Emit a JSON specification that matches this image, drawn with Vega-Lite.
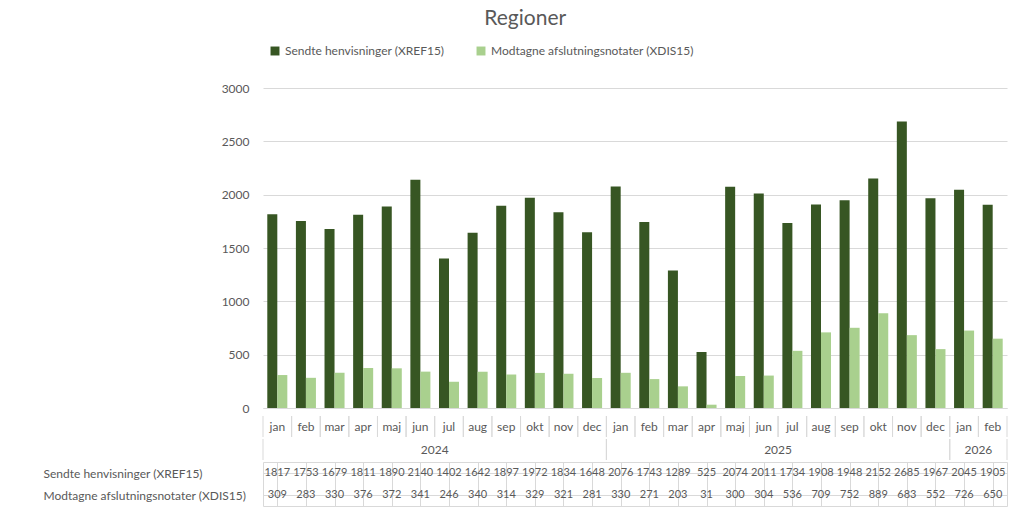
{
  "$schema": "https://vega.github.io/schema/vega-lite/v6.json",
  "background": "white",
  "padding": {"left": 42, "top": 8, "right": 5, "bottom": 3},
  "title": {"text": "Regioner", "fontSize": 21, "color": "#595959", "anchor": "middle", "fontWeight": "normal", "offset": 10},
  "datasets": {
    "d": [
      {"key": "2024-01 jan", "month": "jan", "year": "2024", "series": "Sendte henvisninger (XREF15)", "value": 1817},
      {"key": "2024-02 feb", "month": "feb", "year": "2024", "series": "Sendte henvisninger (XREF15)", "value": 1753},
      {"key": "2024-03 mar", "month": "mar", "year": "2024", "series": "Sendte henvisninger (XREF15)", "value": 1679},
      {"key": "2024-04 apr", "month": "apr", "year": "2024", "series": "Sendte henvisninger (XREF15)", "value": 1811},
      {"key": "2024-05 maj", "month": "maj", "year": "2024", "series": "Sendte henvisninger (XREF15)", "value": 1890},
      {"key": "2024-06 jun", "month": "jun", "year": "2024", "series": "Sendte henvisninger (XREF15)", "value": 2140},
      {"key": "2024-07 jul", "month": "jul", "year": "2024", "series": "Sendte henvisninger (XREF15)", "value": 1402},
      {"key": "2024-08 aug", "month": "aug", "year": "2024", "series": "Sendte henvisninger (XREF15)", "value": 1642},
      {"key": "2024-09 sep", "month": "sep", "year": "2024", "series": "Sendte henvisninger (XREF15)", "value": 1897},
      {"key": "2024-10 okt", "month": "okt", "year": "2024", "series": "Sendte henvisninger (XREF15)", "value": 1972},
      {"key": "2024-11 nov", "month": "nov", "year": "2024", "series": "Sendte henvisninger (XREF15)", "value": 1834},
      {"key": "2024-12 dec", "month": "dec", "year": "2024", "series": "Sendte henvisninger (XREF15)", "value": 1648},
      {"key": "2025-01 jan", "month": "jan", "year": "2025", "series": "Sendte henvisninger (XREF15)", "value": 2076},
      {"key": "2025-02 feb", "month": "feb", "year": "2025", "series": "Sendte henvisninger (XREF15)", "value": 1743},
      {"key": "2025-03 mar", "month": "mar", "year": "2025", "series": "Sendte henvisninger (XREF15)", "value": 1289},
      {"key": "2025-04 apr", "month": "apr", "year": "2025", "series": "Sendte henvisninger (XREF15)", "value": 525},
      {"key": "2025-05 maj", "month": "maj", "year": "2025", "series": "Sendte henvisninger (XREF15)", "value": 2074},
      {"key": "2025-06 jun", "month": "jun", "year": "2025", "series": "Sendte henvisninger (XREF15)", "value": 2011},
      {"key": "2025-07 jul", "month": "jul", "year": "2025", "series": "Sendte henvisninger (XREF15)", "value": 1734},
      {"key": "2025-08 aug", "month": "aug", "year": "2025", "series": "Sendte henvisninger (XREF15)", "value": 1908},
      {"key": "2025-09 sep", "month": "sep", "year": "2025", "series": "Sendte henvisninger (XREF15)", "value": 1948},
      {"key": "2025-10 okt", "month": "okt", "year": "2025", "series": "Sendte henvisninger (XREF15)", "value": 2152},
      {"key": "2025-11 nov", "month": "nov", "year": "2025", "series": "Sendte henvisninger (XREF15)", "value": 2685},
      {"key": "2025-12 dec", "month": "dec", "year": "2025", "series": "Sendte henvisninger (XREF15)", "value": 1967},
      {"key": "2026-01 jan", "month": "jan", "year": "2026", "series": "Sendte henvisninger (XREF15)", "value": 2045},
      {"key": "2026-02 feb", "month": "feb", "year": "2026", "series": "Sendte henvisninger (XREF15)", "value": 1905},
      {"key": "2024-01 jan", "month": "jan", "year": "2024", "series": "Modtagne afslutningsnotater (XDIS15)", "value": 309},
      {"key": "2024-02 feb", "month": "feb", "year": "2024", "series": "Modtagne afslutningsnotater (XDIS15)", "value": 283},
      {"key": "2024-03 mar", "month": "mar", "year": "2024", "series": "Modtagne afslutningsnotater (XDIS15)", "value": 330},
      {"key": "2024-04 apr", "month": "apr", "year": "2024", "series": "Modtagne afslutningsnotater (XDIS15)", "value": 376},
      {"key": "2024-05 maj", "month": "maj", "year": "2024", "series": "Modtagne afslutningsnotater (XDIS15)", "value": 372},
      {"key": "2024-06 jun", "month": "jun", "year": "2024", "series": "Modtagne afslutningsnotater (XDIS15)", "value": 341},
      {"key": "2024-07 jul", "month": "jul", "year": "2024", "series": "Modtagne afslutningsnotater (XDIS15)", "value": 246},
      {"key": "2024-08 aug", "month": "aug", "year": "2024", "series": "Modtagne afslutningsnotater (XDIS15)", "value": 340},
      {"key": "2024-09 sep", "month": "sep", "year": "2024", "series": "Modtagne afslutningsnotater (XDIS15)", "value": 314},
      {"key": "2024-10 okt", "month": "okt", "year": "2024", "series": "Modtagne afslutningsnotater (XDIS15)", "value": 329},
      {"key": "2024-11 nov", "month": "nov", "year": "2024", "series": "Modtagne afslutningsnotater (XDIS15)", "value": 321},
      {"key": "2024-12 dec", "month": "dec", "year": "2024", "series": "Modtagne afslutningsnotater (XDIS15)", "value": 281},
      {"key": "2025-01 jan", "month": "jan", "year": "2025", "series": "Modtagne afslutningsnotater (XDIS15)", "value": 330},
      {"key": "2025-02 feb", "month": "feb", "year": "2025", "series": "Modtagne afslutningsnotater (XDIS15)", "value": 271},
      {"key": "2025-03 mar", "month": "mar", "year": "2025", "series": "Modtagne afslutningsnotater (XDIS15)", "value": 203},
      {"key": "2025-04 apr", "month": "apr", "year": "2025", "series": "Modtagne afslutningsnotater (XDIS15)", "value": 31},
      {"key": "2025-05 maj", "month": "maj", "year": "2025", "series": "Modtagne afslutningsnotater (XDIS15)", "value": 300},
      {"key": "2025-06 jun", "month": "jun", "year": "2025", "series": "Modtagne afslutningsnotater (XDIS15)", "value": 304},
      {"key": "2025-07 jul", "month": "jul", "year": "2025", "series": "Modtagne afslutningsnotater (XDIS15)", "value": 536},
      {"key": "2025-08 aug", "month": "aug", "year": "2025", "series": "Modtagne afslutningsnotater (XDIS15)", "value": 709},
      {"key": "2025-09 sep", "month": "sep", "year": "2025", "series": "Modtagne afslutningsnotater (XDIS15)", "value": 752},
      {"key": "2025-10 okt", "month": "okt", "year": "2025", "series": "Modtagne afslutningsnotater (XDIS15)", "value": 889},
      {"key": "2025-11 nov", "month": "nov", "year": "2025", "series": "Modtagne afslutningsnotater (XDIS15)", "value": 683},
      {"key": "2025-12 dec", "month": "dec", "year": "2025", "series": "Modtagne afslutningsnotater (XDIS15)", "value": 552},
      {"key": "2026-01 jan", "month": "jan", "year": "2026", "series": "Modtagne afslutningsnotater (XDIS15)", "value": 726},
      {"key": "2026-02 feb", "month": "feb", "year": "2026", "series": "Modtagne afslutningsnotater (XDIS15)", "value": 650}
    ]
  },
  "spacing": 0,
  "config": {
    "font": "Lato",
    "view": {"stroke": "transparent"},
    "axis": {"labelFontSize": 12, "labelColor": "#595959"}
  },
  "vconcat": [
    {
      "width": 744,
      "height": 320,
      "data": {"name": "d"},
      "mark": {"type": "bar"},
      "encoding": {
        "x": {
          "field": "key", "type": "ordinal",
          "scale": {"paddingInner": 0.3, "paddingOuter": 0.15},
          "axis": {"title": null, "labels": false, "ticks": false, "domainColor": "#d9d9d9", "maxExtent": 1, "minExtent": 0}
        },
        "xOffset": {"field": "series", "type": "nominal", "sort": "descending"},
        "y": {
          "field": "value", "type": "quantitative",
          "scale": {"domain": [0, 3000]},
          "axis": {"title": null, "tickCount": 6, "format": "d", "domain": false, "ticks": false, "gridColor": "#d9d9d9", "labelPadding": 14}
        },
        "color": {
          "field": "series", "type": "nominal", "sort": "descending",
          "scale": {"range": ["#375623", "#a9d08e"]},
          "legend": {"orient": "top", "direction": "horizontal", "title": null, "symbolType": "square", "symbolSize": 80, "labelLimit": 0, "labelFontSize": 12, "labelColor": "#595959", "columnPadding": 30, "padding": 6}
        }
      }
    },
    {
      "width": 744,
      "height": 21,
      "data": {"name": "d"},
      "transform": [
        {"filter": "datum.series == 'Sendte henvisninger (XREF15)'"}
      ],
      "layer": [
        {
          "mark": {"type": "text", "fontSize": 12, "color": "#595959", "baseline": "middle"},
          "encoding": {
            "x": {"field": "key", "type": "ordinal", "scale": {"paddingInner": 0, "paddingOuter": 0}, "axis": null},
            "text": {"field": "month"}
          }
        },
        {
          "mark": {"type": "rule", "color": "#d9d9d9"},
          "encoding": {
            "x": {"field": "key", "type": "ordinal", "bandPosition": 0}
          }
        },
        {
          "mark": {"type": "rule", "color": "#d9d9d9"},
          "encoding": {
            "x": {"field": "key", "type": "ordinal", "bandPosition": 1}
          }
        }
      ]
    },
    {
      "width": 744,
      "height": 21,
      "data": {"name": "d"},
      "transform": [
        {"filter": "datum.series == 'Sendte henvisninger (XREF15)'"},
        {"joinaggregate": [{"op": "count", "as": "cnt"}], "groupby": ["year"]},
        {"window": [{"op": "row_number", "as": "rank"}], "groupby": ["year"], "sort": [{"field": "key"}]}
      ],
      "layer": [
        {
          "mark": {"type": "text", "fontSize": 12, "color": "#595959", "baseline": "middle"},
          "encoding": {
            "x": {"field": "key", "type": "ordinal", "bandPosition": 0, "scale": {"paddingInner": 0, "paddingOuter": 0}, "axis": null},
            "text": {"condition": {"test": "datum.rank == datum.cnt / 2 + 1", "field": "year"}, "value": ""}
          }
        },
        {
          "mark": {"type": "rule", "color": "#d9d9d9"},
          "encoding": {
            "x": {"field": "key", "type": "ordinal", "bandPosition": 0},
            "opacity": {"condition": {"test": "datum.rank == 1", "value": 1}, "value": 0}
          }
        },
        {
          "mark": {"type": "rule", "color": "#d9d9d9"},
          "encoding": {
            "x": {"field": "key", "type": "ordinal", "bandPosition": 1},
            "opacity": {"condition": {"test": "datum.rank == datum.cnt", "value": 1}, "value": 0}
          }
        }
      ]
    },
    {
      "width": 744,
      "height": 44,
      "view": {"stroke": "#d9d9d9"},
      "data": {"name": "d"},
      "mark": {"type": "text", "fontSize": 11, "color": "#595959", "baseline": "middle"},
      "encoding": {
        "x": {"field": "key", "type": "ordinal", "scale": {"paddingInner": 0, "paddingOuter": 0},
          "axis": {"title": null, "labels": false, "ticks": false, "domain": false, "grid": true, "bandPosition": 0, "gridColor": "#d9d9d9"}},
        "y": {"field": "series", "type": "nominal", "sort": "descending",
          "axis": {"title": null, "domain": false, "ticks": false, "grid": true, "bandPosition": 0, "gridColor": "#d9d9d9", "labelAlign": "left", "labelPadding": 220, "labelLimit": 0}},
        "text": {"field": "value", "type": "quantitative", "format": "d"}
      }
    }
  ]
}
